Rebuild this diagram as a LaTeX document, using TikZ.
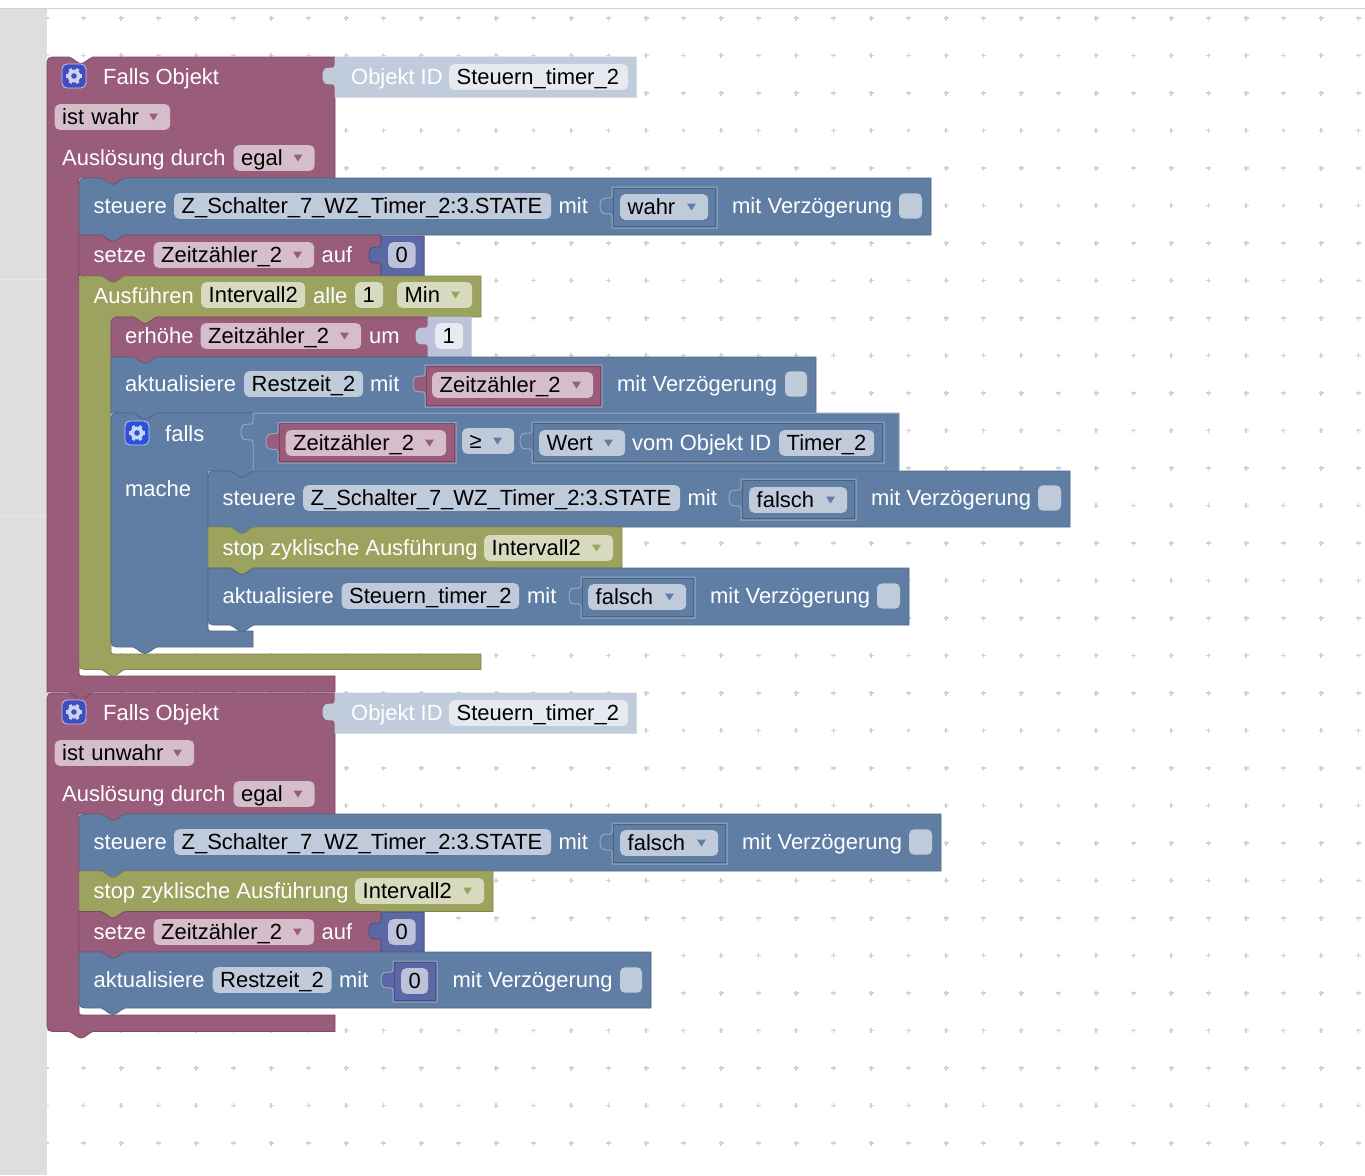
\documentclass[tikz,border=0pt]{standalone}
\usepackage{fontspec}
\setmainfont{Liberation Sans}
\definecolor{plum}{HTML}{995C7B}
\definecolor{plumlight}{HTML}{D6BDCA}
\definecolor{slate}{HTML}{607EA3}
\definecolor{slatelight}{HTML}{BFCBDB}
\definecolor{slateedge}{HTML}{92A8C2}
\definecolor{olive}{HTML}{9CA35F}
\definecolor{olivelight}{HTML}{D7DABF}
\definecolor{indigo}{HTML}{5C68A6}
\definecolor{indigolight}{HTML}{BDC2DB}
\definecolor{shadowblue}{HTML}{C0CCDC}
\definecolor{shadowfield}{HTML}{E6EAF0}
\definecolor{griddot}{HTML}{D2D2D2}
\definecolor{iconplum}{HTML}{3F4DBF}
\definecolor{iconslate}{HTML}{2B50DC}
\tikzset{
  lbl/.style={anchor=base west,inner sep=0pt,text=white},
  fieldbox/.style={fill=#1,rounded corners=5pt,anchor=west,inner xsep=7.5pt,inner ysep=0pt,
    text height=19.8pt,text depth=5.8pt,text=black,align=left},
}
\newcommand{\tabfwd}[2]{-- (#1+22,#2) .. controls (#1+26,#2+1) and (#1+30,#2+6.5) .. (#1+34,#2+6.5)
  .. controls (#1+38,#2+6.5) and (#1+42,#2+1) .. (#1+46,#2)}
\newcommand{\tabback}[2]{-- (#1+46,#2) .. controls (#1+42,#2+1) and (#1+38,#2+6.5) .. (#1+34,#2+6.5)
  .. controls (#1+30,#2+6.5) and (#1+26,#2+1) .. (#1+22,#2)}
% colour, x1, y1, x2, y2, radius top left, radius bottom left
\newcommand{\stackblock}[7]{
  \filldraw[fill=#1,draw=#1!82!black,line width=.8pt] (#2,#3+#6) .. controls (#2,#3) .. (#2+#6,#3)
    \tabfwd{#2}{#3} -- (#4,#3) -- (#4,#5) \tabback{#2}{#5} -- (#2+#7,#5) .. controls (#2,#5) .. (#2,#5-#7) -- cycle;
}
% colour, x1, y1, x2, head bottom, inner x, bar top, bar bottom, radius bottom left
\newcommand{\mouthblock}[9]{
  \filldraw[fill=#1,draw=#1!82!black,line width=.8pt] (#2,#3+11) .. controls (#2,#3) .. (#2+11,#3)
    \tabfwd{#2}{#3} -- (#4,#3) -- (#4,#5) \tabback{#6}{#5} -- (#6,#5) -- (#6,#7-5) .. controls (#6,#7) .. (#6+5,#7)
    -- (#4,#7) -- (#4,#8) \tabback{#2}{#8} -- (#2+#9,#8) .. controls (#2,#8) .. (#2,#8-#9) -- cycle;
}
% fill, edge, x1, y1, x2, y2
\newcommand{\insetblock}[6]{
  \filldraw[fill=#1,draw=#2,line width=1pt] (#3,#4) -- (#5,#4) -- (#5,#6) -- (#3,#6) -- (#3,#4+30)
    .. controls (#3,#4+22) and (#3-12,#4+33) .. (#3-12,#4+19)
    .. controls (#3-12,#4+5) and (#3,#4+16) .. (#3,#4+8) -- cycle;
}
% inset with the darker inner line: fill, x1, y1, x2, y2
\newcommand{\framedinset}[5]{
  \insetblock{#1}{slateedge}{#2}{#3}{#4}{#5}
  \draw[black,opacity=.22,line width=.7pt] (#2+1.2,#3+1.2) rectangle (#4-1.2,#5-1.2);
}
\newcommand{\valfield}[6]{
  \pgfmathsetmacro{\fw}{#3-#2-15}
  \node (#1) [fieldbox=#5,text width=\fw pt] at (#2,#4) {#6};
}
% name, x1, x2, y centre, field colour, arrow colour, text
\newcommand{\dropfield}[7]{
  \valfield{#1}{#2}{#3}{#4}{#5}{#7}
  \fill[#6] (#3-21,#4-3.5) -- (#3-12,#4-3.5) -- (#3-16.5,#4+3.5) -- cycle;
}
\newcommand{\checkfield}[3]{
  \fill[slatelight,rounded corners=5pt] (#1,#3-12.7) rectangle (#2,#3+12.7);
}
\newcommand{\gearicon}[3]{
  \filldraw[fill=#3,draw=white!70!#3,rounded corners=5pt,line width=.8pt] (#1-12,#2-12) rectangle (#1+12,#2+12);
  \foreach \ang in {0,60,...,300} {
    \draw[white!75!#3,line width=3.2pt] (#1,#2) -- ++(\ang:8.2);
  }
  \fill[white!75!#3] (#1,#2) circle [radius=6.5];
  \fill[#3] (#1,#2) circle [radius=2.8];
}
\begin{document}
\begin{tikzpicture}[x=1pt,y=-1pt,font=\fontsize{21.95}{25}\selectfont]
  \useasboundingbox (0,0) rectangle (1365,1175);
  \fill[white] (0,0) rectangle (1365,1175);
  % grid
  \foreach \gx in {0,...,35} {
    \foreach \gy in {0,...,30} {
      \pgfmathsetmacro{\px}{46+37.5*\gx}
      \pgfmathsetmacro{\py}{18+37.5*\gy}
      \draw[griddot,line width=1.3pt] (\px-2.5,\py) -- (\px+2.5,\py) (\px,\py-2.5) -- (\px,\py+2.5);
    }
  }
  \fill[black!13] (0,8) rectangle (47,1175);
  \draw[black!18] (0,8) -- (1365,8);
  \draw[black!9] (0,279) -- (47,279) (0,515) -- (47,515);

  % first trigger
  \mouthblock{plum}{47}{57}{335}{178}{79}{676}{692}{0}
  \insetblock{shadowblue}{shadowblue}{335}{57}{636}{97}
  \gearicon{74}{76}{iconplum}
  \node (lFalls) [lbl] at (103,84) {Falls Objekt};
  \node (lObj) [lbl] at (351,84) {Objekt ID};
  \valfield{fObj}{449}{628}{77}{shadowfield}{Steuern\_timer\_2}
  \dropfield{fWahr}{54.5}{170}{117}{plumlight}{plum}{ist wahr}
  \node (lAus) [lbl] at (62,165) {Auslösung durch};
  \dropfield{fEgal}{233.5}{314.5}{158}{plumlight}{plum}{egal}

  \stackblock{slate}{79}{178}{931}{235}{11}{0}
  \node (lSt) [lbl] at (93.5,213) {steuere};
  \valfield{fSw}{174}{551}{206}{slatelight}{Z\_Schalter\_7\_WZ\_Timer\_2:3.STATE}
  \node (lMit) [lbl] at (558.5,213) {mit};
  \framedinset{slate}{612}{187}{717}{228}
  \dropfield{fVal}{620}{708}{207}{slatelight}{slate}{wahr}
  \node (lVz) [lbl] at (732,213) {mit Verzögerung};
  \checkfield{899}{922}{206}

  \stackblock{plum}{79}{235}{381}{276}{0}{0}
  \node (lSe) [lbl] at (93.5,262) {setze};
  \dropfield{fZa}{153.5}{314}{255}{plumlight}{plum}{Zeitzähler\_2}
  \node (lAuf) [lbl] at (321.5,262) {auf};
  \insetblock{indigo}{indigo!82!black}{381}{236}{424}{276}
  \valfield{fNull}{388}{415.5}{255}{indigolight}{0}

  \mouthblock{olive}{79}{276}{481}{317}{111}{654}{669.5}{11}
  \node (lAf) [lbl] at (93.5,303) {Ausführen};
  \valfield{fIv}{201}{305}{295}{olivelight}{Intervall2}
  \node (lAl) [lbl] at (313,303) {alle};
  \valfield{fEins}{355}{383}{295}{olivelight}{1}
  \dropfield{fMin}{397}{472}{295}{olivelight}{olive}{Min}

  \stackblock{plum}{111}{317}{428}{357}{11}{0}
  \node (lEr) [lbl] at (125,343) {erhöhe};
  \dropfield{fZb}{200.5}{361}{336}{plumlight}{plum}{Zeitzähler\_2}
  \node (lUm) [lbl] at (369,343) {um};
  \insetblock{indigolight}{indigolight}{428}{317}{471}{357}
  \valfield{fUm}{435}{463}{336}{white!65!indigolight}{1}

  \stackblock{slate}{111}{357}{816}{413}{0}{0}
  \node (lAk) [lbl] at (125,391) {aktualisiere};
  \valfield{fRz}{244}{363}{384}{slatelight}{Restzeit\_2}
  \node (lMb) [lbl] at (370,391) {mit};
  \framedinset{plum}{425}{365}{602}{407}
  \dropfield{fZc}{432}{593}{385}{plumlight}{plum}{Zeitzähler\_2}
  \node (lVb) [lbl] at (617,391) {mit Verzögerung};
  \checkfield{785}{807}{384}

  \mouthblock{slate}{111}{413}{253}{471}{208}{631}{647}{11}
  \gearicon{137}{433}{iconslate}
  \node (lFa) [lbl] at (165,441) {falls};
  \node (lMa) [lbl] at (125,496) {mache};
  \insetblock{slate}{slateedge}{253}{413}{899}{471}
  \framedinset{plum}{278}{422.5}{456}{463}
  \dropfield{fZd}{285.5}{446}{443}{plumlight}{plum}{Zeitzähler\_2}
  \dropfield{fGe}{462}{514}{441}{slatelight}{slate}{≥}
  \framedinset{slate}{532}{422}{884}{463}
  \dropfield{fWe}{539}{625}{443}{slatelight}{slate}{Wert}
  \node (lVo) [lbl] at (632,450) {vom Objekt ID};
  \valfield{fTi}{779}{874}{443}{slatelight}{Timer\_2}

  \stackblock{slate}{208}{471}{1070}{527}{11}{0}
  \node (lSb) [lbl] at (222.5,505) {steuere};
  \valfield{fSx}{303}{680}{498}{slatelight}{Z\_Schalter\_7\_WZ\_Timer\_2:3.STATE}
  \node (lMc) [lbl] at (687.5,505) {mit};
  \framedinset{slate}{741}{479}{856}{520}
  \dropfield{fFa}{749}{847}{500}{slatelight}{slate}{falsch}
  \node (lVc) [lbl] at (871,505) {mit Verzögerung};
  \checkfield{1038}{1061}{498}

  \stackblock{olive}{208}{527}{622}{568}{0}{0}
  \node (lSo) [lbl] at (222.5,555) {stop zyklische Ausführung};
  \dropfield{fIw}{484}{613}{548}{olivelight}{olive}{Intervall2}

  \stackblock{slate}{208}{568}{909}{625}{0}{11}
  \node (lAb) [lbl] at (222.5,603) {aktualisiere};
  \valfield{fSt}{341.5}{519}{596}{slatelight}{Steuern\_timer\_2}
  \node (lMd) [lbl] at (527,603) {mit};
  \framedinset{slate}{581}{577}{695}{618}
  \dropfield{fFb}{588}{686}{597}{slatelight}{slate}{falsch}
  \node (lVd) [lbl] at (710,603) {mit Verzögerung};
  \checkfield{877}{900}{596}

  % second trigger
  \mouthblock{plum}{47}{693}{335}{814}{79}{1015}{1031.5}{11}
  \insetblock{shadowblue}{shadowblue}{335}{693}{636}{733}
  \gearicon{74}{712}{iconplum}
  \node (lFallsB) [lbl] at (103,720) {Falls Objekt};
  \node (lObjB) [lbl] at (351,720) {Objekt ID};
  \valfield{fObjB}{449}{628}{713}{shadowfield}{Steuern\_timer\_2}
  \dropfield{fUnw}{54.5}{194}{753}{plumlight}{plum}{ist unwahr}
  \node (lAusB) [lbl] at (62,801) {Auslösung durch};
  \dropfield{fEgalB}{233.5}{314.5}{794}{plumlight}{plum}{egal}

  \stackblock{slate}{79}{814}{941}{871}{11}{0}
  \node (lSf) [lbl] at (93.5,849) {steuere};
  \valfield{fSy}{174}{551}{842}{slatelight}{Z\_Schalter\_7\_WZ\_Timer\_2:3.STATE}
  \node (lMe) [lbl] at (558.5,849) {mit};
  \framedinset{slate}{612}{823}{727}{864}
  \dropfield{fFc}{620}{718}{843}{slatelight}{slate}{falsch}
  \node (lVe) [lbl] at (742,849) {mit Verzögerung};
  \checkfield{909}{932}{842}

  \stackblock{olive}{79}{871}{493}{911.5}{0}{0}
  \node (lSp) [lbl] at (93.5,898) {stop zyklische Ausführung};
  \dropfield{fIx}{355}{484}{891}{olivelight}{olive}{Intervall2}

  \stackblock{plum}{79}{911.5}{381}{952}{0}{0}
  \node (lSg) [lbl] at (93.5,939) {setze};
  \dropfield{fZe}{153.5}{314}{932}{plumlight}{plum}{Zeitzähler\_2}
  \node (lAug) [lbl] at (321.5,939) {auf};
  \insetblock{indigo}{indigo!82!black}{381}{912}{424}{952}
  \valfield{fNullB}{388}{415.5}{932}{indigolight}{0}

  \stackblock{slate}{79}{952}{651}{1008}{0}{11}
  \node (lAc) [lbl] at (93.5,987) {aktualisiere};
  \valfield{fRy}{212.5}{331.5}{980}{slatelight}{Restzeit\_2}
  \node (lMf) [lbl] at (339,987) {mit};
  \framedinset{indigo}{393}{961}{437}{1002}
  \valfield{fNullC}{401}{428}{981}{indigolight}{0}
  \node (lVf) [lbl] at (452.5,987) {mit Verzögerung};
  \checkfield{620}{642}{980}
\end{tikzpicture}
\end{document}
